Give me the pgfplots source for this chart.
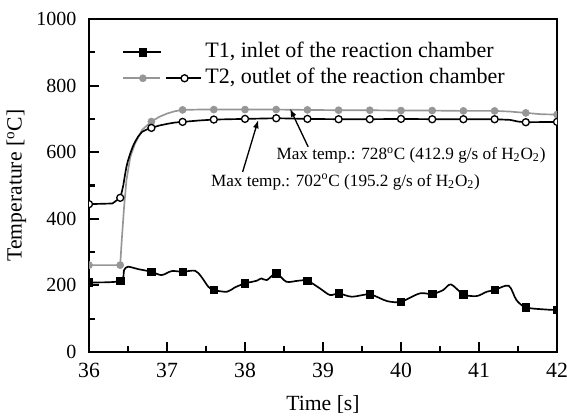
\documentclass[border=0pt]{standalone}
\usepackage{fontspec}
\setmainfont{Liberation Serif}
\usepackage{pgfplots}
\pgfplotsset{compat=1.18}
\usetikzlibrary{arrows.meta}
\definecolor{tgray}{RGB}{150,150,150}

\begin{document}
\begin{tikzpicture}
\begin{axis}[
  name=ax,
  scale only axis,
  width=280.8pt, height=199.8pt,
  xmin=36, xmax=42, ymin=0, ymax=1000,
  xtick={36,37,...,42}, ytick={0,200,...,1000},
  minor x tick num=1, minor y tick num=1,
  tick pos=left, tick align=inside,
  major tick length=6pt, minor tick length=3.6pt,
  axis line style={line width=1.5pt},
  tick style={line width=1.3pt, black},
  /pgf/number format/assume math mode=true,
  /pgf/number format/set thousands separator={},
  xticklabel style={font=\fontsize{13}{15}\selectfont, yshift=-3pt},
  yticklabel style={font=\fontsize{12}{14}\selectfont, xshift=-4pt},
  xlabel={Time [s]},
  ylabel={Temperature [\textsuperscript{o}C]},
  label style={font=\fontsize{13}{15}\selectfont},
  xlabel style={at={(axis description cs:0.5,-0.156)}, anchor=center},
  ylabel style={at={(axis description cs:-0.155,0.5)}, anchor=center},
  clip marker paths=true,
  legend cell align=left,
  legend style={draw=none, fill=none, inner sep=0pt,
    at={(axis description cs:0.0699,0.861)}, anchor=west,
    font=\fontsize{13.2}{15}\selectfont, row sep=5.6pt, column sep=0pt,
    nodes={inner ysep=0pt, text height=8pt, text depth=2pt}},
]

% T2 at 412.9 g/s of H2O2 (grey, filled circles)
\addplot[tgray, line width=1pt, line join=round, forget plot] coordinates {
  (36.0,261) (36.4,261) (36.42,336) (36.45,436) (36.48,516) (36.53,586)
  (36.59,626) (36.68,667) (36.8,692) (36.9,706) (37.0,716) (37.1,723)
  (37.2,727) (37.4,728) (37.6,728)
  (38.0,728) (38.4,728) (38.8,727) (39.2,726) (39.6,726) (40.0,725)
  (40.4,725) (40.8,724) (41.2,724) (41.4,722) (41.5,720) (41.6,718)
  (41.8,714) (42.0,713)
};
% T2 at 195.2 g/s of H2O2 (black, open circles)
\addplot[black, line width=1pt, line join=round, forget plot] coordinates {
  (36.0,444) (36.3,446) (36.4,463) (36.42,480) (36.44,501) (36.46,530)
  (36.48,556) (36.5,575) (36.53,597) (36.56,616) (36.59,631) (36.63,647)
  (36.68,661) (36.74,668) (36.8,673) (36.9,680) (37.0,685) (37.1,689)
  (37.2,691) (37.4,695) (37.6,698) (38.0,700)
  (38.4,702) (38.8,700) (39.2,699) (39.6,699) (40.0,700) (40.4,699)
  (40.8,699) (41.2,699) (41.4,697) (41.5,692) (41.6,690) (42.0,691)
};
% T1, inlet
\addplot[black, line width=1pt, smooth, tension=0.5, forget plot] coordinates {
  (36.0,209) (36.4,213) (36.45,246) (36.5,256) (36.63,249) (36.8,241)
  (36.93,231) (37.06,243) (37.2,241) (37.36,244) (37.44,226) (37.53,196)
  (37.6,186) (37.77,181) (37.87,194) (38.0,206) (38.15,214) (38.21,221)
  (38.28,216) (38.4,236) (38.53,211) (38.68,214) (38.8,214) (38.96,191)
  (39.09,171) (39.2,176) (39.37,166) (39.6,173) (39.82,153) (40.0,151)
  (40.24,176) (40.4,174) (40.54,186) (40.64,203) (40.8,173) (40.97,168)
  (41.1,181) (41.2,186) (41.38,199) (41.48,156) (41.6,134) (41.83,128)
  (42.0,126)
};

% markers every 0.4 s
\addplot[only marks, mark=*, mark size=2.1pt, tgray, fill=tgray, forget plot] coordinates {
  (36.0,261) (36.4,261) (36.8,692) (37.2,727) (37.6,728) (38.0,728)
  (38.4,728) (38.8,727) (39.2,726) (39.6,726) (40.0,725) (40.4,725)
  (40.8,724) (41.2,724) (41.6,718) (42.0,713)
};
\addplot[only marks, mark=*, mark size=2.1pt, mark options={draw=black, fill=white, line width=0.8pt}, forget plot] coordinates {
  (36.0,444) (36.4,463) (36.8,673) (37.2,691) (37.6,698) (38.0,700)
  (38.4,702) (38.8,700) (39.2,699) (39.6,699) (40.0,700) (40.4,699)
  (40.8,699) (41.2,699) (41.6,690) (42.0,691)
};
\addplot[only marks, mark=square*, mark size=2.2pt, black, forget plot] coordinates {
  (36.0,209) (36.4,213) (36.8,241) (37.2,241) (37.6,186) (38.0,206)
  (38.4,236) (38.8,214) (39.2,176) (39.6,173) (40.0,151) (40.4,174)
  (40.8,173) (41.2,186) (41.6,134) (42.0,126)
};

% legend
\addlegendimage{legend image code/.code={
  \draw[black, line width=1pt] (0pt,0pt) -- (23pt,0pt);
  \draw[black, fill=black] plot[only marks, mark=square*, mark size=2.2pt] coordinates {(12pt,0pt)};
  \path (47pt,0pt);
}}
\addlegendentry{T1, inlet of the reaction chamber}
\addlegendimage{legend image code/.code={
  \draw[tgray, line width=1pt] (0pt,0pt) -- (22pt,0pt);
  \draw[tgray, fill=tgray] plot[only marks, mark=*, mark size=2.1pt] coordinates {(12pt,0pt)};
  \draw[black, line width=1pt] (26pt,0pt) -- (47pt,0pt);
  \draw[black, fill=white, line width=0.8pt] plot[only marks, mark=*, mark size=2.1pt] coordinates {(37pt,0pt)};
}}
\addlegendentry{T2, outlet of the reaction chamber}

% annotations
\node[anchor=west, inner sep=0pt, font=\fontsize{10.3}{12}\selectfont]
  at (axis cs:38.40,592) {Max temp.: 728\textsuperscript{o}C (412.9 g/s of H\textsubscript{2}O\textsubscript{2})};
\node[anchor=west, inner sep=0pt, font=\fontsize{10.3}{12}\selectfont]
  at (axis cs:37.56,511) {Max temp.: 702\textsuperscript{o}C (195.2 g/s of H\textsubscript{2}O\textsubscript{2})};
\draw[-{Latex[length=5pt,width=3.5pt]}, line width=0.8pt] (axis cs:38.81,616) -- (axis cs:38.577,731);
\draw[-{Latex[length=5pt,width=3.5pt]}, line width=0.8pt] (axis cs:37.97,541) -- (axis cs:38.17,697);
\end{axis}
\pgfresetboundingbox
\path[use as bounding box] ([xshift=-53.4pt,yshift=-39.6pt]ax.south west)
  rectangle ([xshift=6pt,yshift=11.4pt]ax.north east);
\end{tikzpicture}
\end{document}
